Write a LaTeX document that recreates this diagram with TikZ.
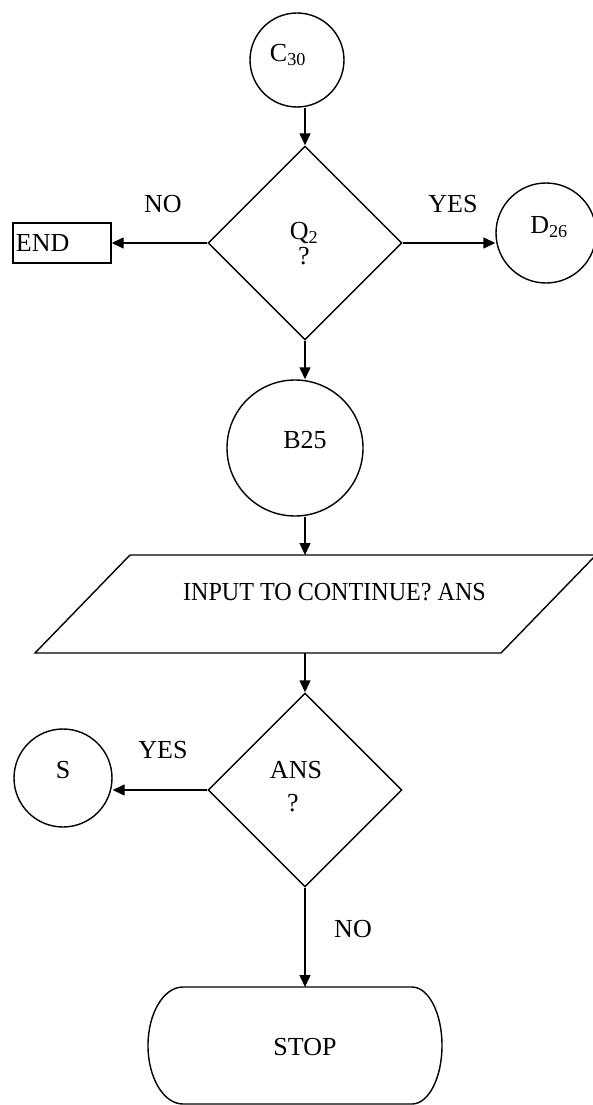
\documentclass[tikz,border=0pt]{standalone}
\usepackage{fontspec}
\usepackage{graphicx}
\setmainfont{Liberation Serif}
\usetikzlibrary{shapes.geometric,arrows.meta}
\begin{document}
\begin{tikzpicture}[x=1pt,y=-1pt,line width=1.4pt,
  every node/.style={font=\fontsize{26}{25}\selectfont, inner sep=0pt},
  conn/.style={draw,circle,minimum size=#1},
  dec/.style={draw,diamond,minimum width=194,minimum height=194},
  arr/.style={-{Triangle[length=12pt,width=11pt]}}]
\useasboundingbox (0,0) rectangle (593,1105);

% top connector
\node[conn=94] (c30) at (297,60) {};
\node (c30t) at (288,55) {C\textsubscript{30}};

% decision Q2
\node[dec] (q2) at (305,243) {};
\node[align=center] (q2t) at (304,244) {Q\textsubscript{2}\\?};

% END box
\node[draw, text width=92, inner xsep=3pt, minimum height=40, align=left] (end) at (62,243) {END};
\node (no1) at (163,204) {NO};
\node (yes1) at (453,204) {YES};

% D26
\node[conn=100] (d26) at (546,233) {};
\node (d26t) at (549,227) {D\textsubscript{26}};

% B25
\node[conn=136] (b25) at (295,448) {};
\node (b25t) at (305,440) {B25};

% input parallelogram
\draw (130,555) -- (596,555) -- (501,653) -- (35,653) -- cycle;
\coordinate (inN) at (305,555);
\coordinate (inS) at (305,653);
\node (inp) at (334.5,592) {\scalebox{0.927}[1]{INPUT TO CONTINUE? ANS}};

% decision ANS
\node[dec] (ans) at (305,790) {};
\node (anst) at (296,770) {ANS};
\node (ansq) at (293,803) {?};

% S
\node[conn=98] (s) at (63,778) {};
\node (st) at (63,770) {S};
\node (yes2) at (163,750) {YES};
\node (no2) at (353,929) {NO};

% STOP terminal
\draw (183,987) -- (412,987) arc[start angle=-90,end angle=90,x radius=30,y radius=58.5]
      -- (183,1104) arc[start angle=90,end angle=270,x radius=35,y radius=58.5] -- cycle;
\coordinate (stopN) at (305,987);
\node (stop) at (305,1047) {STOP};

% connectors
\draw[arr] (c30.south -| q2.north) -- (q2.north);
\draw[arr] (q2.west) -- (end.east);
\draw[arr] (q2.east) -- (q2.east -| d26.west);
\draw[arr] (q2.south) -- (q2.south |- b25.north);
\draw[arr] (inN |- b25.south) -- (inN);
\draw[arr] (inS) -- (ans.north);
\draw[arr] (ans.west) -- (ans.west -| s.east);
\draw[arr] (ans.south) -- (stopN);
\end{tikzpicture}
\end{document}
